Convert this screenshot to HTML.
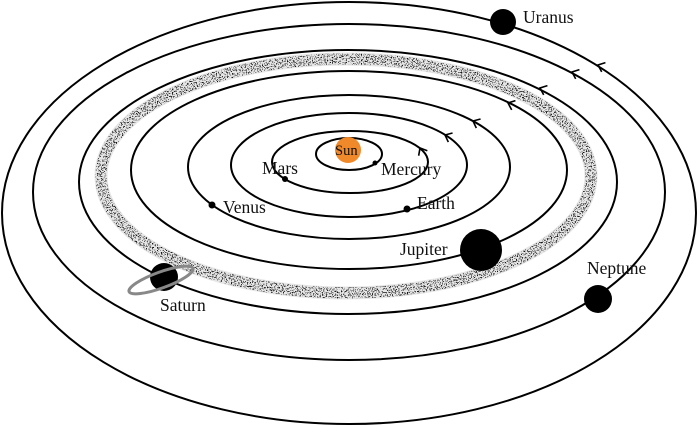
<!DOCTYPE html>
<html><head><meta charset="utf-8"><style>
html,body{margin:0;padding:0;background:#fff;}
svg{display:block;}
text{font-family:"Liberation Serif",serif;fill:#111;}
</style></head><body>
<svg id="chart" width="699" height="426" viewBox="0 0 699 426" xmlns="http://www.w3.org/2000/svg">
<defs>
<filter id="speck" x="-10%" y="-10%" width="120%" height="120%">
<feTurbulence type="fractalNoise" baseFrequency="0.8" numOctaves="2" seed="3" result="n"/>
<feColorMatrix in="n" type="matrix" values="0 0 0 0 0  0 0 0 0 0  0 0 0 0 0  0 0 0 -13 5.8" result="m"/>
<feComposite in="m" in2="SourceGraphic" operator="in"/>
</filter>
</defs>
<g id="belt">
<ellipse cx="346" cy="176" rx="245" ry="117" fill="none" stroke="#e6e6e6" stroke-width="13"/>
<ellipse cx="346" cy="176" rx="245" ry="117" fill="none" stroke="#000" stroke-width="11" opacity="0.9" filter="url(#speck)"/>
</g>
<g id="orbits"></g>
<g id="arrows"></g>
<g id="planets"></g>
</svg>
<script>
const orbitNames=['orbit-1','orbit-mercury','orbit-venus','orbit-earth','orbit-mars','orbit-jupiter','orbit-saturn','orbit-uranus'];
const orbitCx=[349,350,349,349,349,348,349,349];
const orbitCy=[154,162,165,167,170,182,192,213];
const orbitRx=[33,78,118,161,218,269,316,347];
const orbitRy=[16,31,52,72,99,132,168,211];
const planetNames=['Mercury','Mars','Venus','Earth','Jupiter','Saturn','Neptune','Uranus'];
const planetX=[375,285,212,407,481,164,598,503];
const planetY=[163,179,205,209,250,277,299,22];
const planetR=[2.5,3,3.5,3.5,21,14,14,13];
const labelX=[381,262,223,417,400,160,587,523];
const labelY=[175,174,213,209,255,311,274,23];
const arrowX=[420,445,473,508,540,572,598];
const arrowY=[148,135,121,103,88,72,65];
const arrowAng=[60,25,25,22,22,22,22];
const NS='http://www.w3.org/2000/svg';
const og=document.getElementById('orbits');
for(let i=0;i<orbitNames.length;i++){
 const e=document.createElementNS(NS,'ellipse');
 e.setAttribute('cx',orbitCx[i]);e.setAttribute('cy',orbitCy[i]);
 e.setAttribute('rx',orbitRx[i]);e.setAttribute('ry',orbitRy[i]);
 e.setAttribute('fill','none');e.setAttribute('stroke','#000');e.setAttribute('stroke-width','2');
 
 
 og.appendChild(e);
}
const ag=document.getElementById('arrows');
for(let i=0;i<arrowX.length;i++){
 const p=document.createElementNS(NS,'polyline');
 p.setAttribute('points','6,-5 0,0 6,5');
 p.setAttribute('fill','none');p.setAttribute('stroke','#000');p.setAttribute('stroke-width','1.6');
 p.setAttribute('transform','translate('+arrowX[i]+','+arrowY[i]+') rotate('+arrowAng[i]+')');
 
 
 ag.appendChild(p);
}
const pg=document.getElementById('planets');
const sun=document.createElementNS(NS,'circle');
sun.setAttribute('cx',348);sun.setAttribute('cy',150);sun.setAttribute('r',13);sun.setAttribute('fill','#f0892a');


pg.appendChild(sun);
const st=document.createElementNS(NS,'text');
st.setAttribute('x',335);st.setAttribute('y',155);st.setAttribute('font-size','14.5');st.textContent='Sun';


pg.appendChild(st);
for(let i=0;i<planetNames.length;i++){
 const c=document.createElementNS(NS,'circle');
 c.setAttribute('cx',planetX[i]);c.setAttribute('cy',planetY[i]);c.setAttribute('r',planetR[i]);c.setAttribute('fill','#000');
 
 
 pg.appendChild(c);
 if(planetNames[i]==='Saturn'){
  const r=document.createElementNS(NS,'ellipse');
  r.setAttribute('cx',planetX[i]-3);r.setAttribute('cy',planetY[i]+3);r.setAttribute('rx',34);r.setAttribute('ry',8);
  r.setAttribute('fill','none');r.setAttribute('stroke','#888');r.setAttribute('stroke-width','3');
  r.setAttribute('transform','rotate(-20 '+(planetX[i]-3)+' '+(planetY[i]+3)+')');
  
  
  pg.appendChild(r);
 }
 const t=document.createElementNS(NS,'text');
 t.setAttribute('x',labelX[i]);t.setAttribute('y',labelY[i]);t.setAttribute('font-size','17.5');
 t.textContent=planetNames[i];
 
 
 pg.appendChild(t);
}
</script>
</body></html>
